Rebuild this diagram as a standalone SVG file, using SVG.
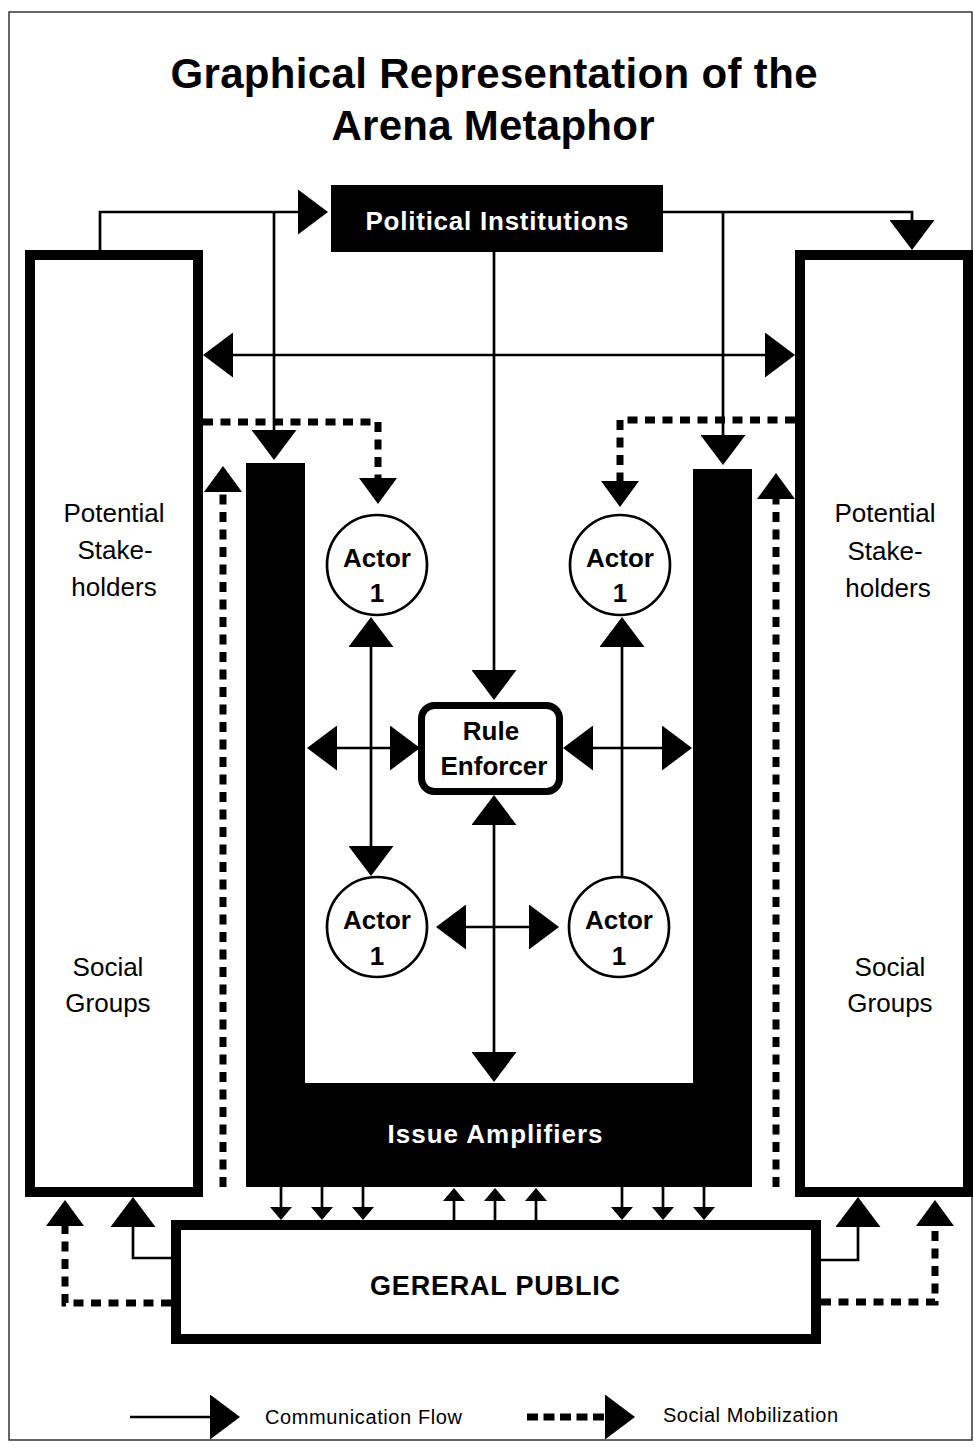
<svg xmlns="http://www.w3.org/2000/svg" width="975" height="1448" viewBox="0 0 975 1448">
  <style>
    text { font-family: "Liberation Sans", Arial, sans-serif; text-anchor: middle; }
    .title { font-size: 42px; font-weight: bold; fill: #000; }
    .lbl { font-size: 26px; font-weight: bold; fill: #000; }
    .lblw { font-size: 26px; font-weight: bold; fill: #fff; }
    .side { font-size: 26px; fill: #000; }
    .leg { font-size: 20px; fill: #000; text-anchor: start; }
    .box { fill: #fff; stroke: #000; stroke-width: 10; }
    .actor { fill: #fff; stroke: #000; stroke-width: 2.7; }
    .flow { fill: none; stroke: #000; stroke-width: 2.7; }
    .mob { fill: none; stroke: #000; stroke-width: 7; stroke-dasharray: 10 7.5; }
  </style>
  <defs>
    <marker id="ah" markerUnits="userSpaceOnUse" markerWidth="30" markerHeight="45" viewBox="0 0 30 45" refX="0" refY="22.5" orient="auto-start-reverse">
      <path d="M0,0 L30,22.5 L0,45 Z" fill="#000"/>
    </marker>
    <marker id="ahd" markerUnits="userSpaceOnUse" markerWidth="26" markerHeight="38" viewBox="0 0 26 38" refX="0" refY="19" orient="auto-start-reverse">
      <path d="M0,0 L26,19 L0,38 Z" fill="#000"/>
    </marker>
    <marker id="ahs" markerUnits="userSpaceOnUse" markerWidth="13" markerHeight="22" viewBox="0 0 13 22" refX="0" refY="11" orient="auto-start-reverse">
      <path d="M0,0 L13,11 L0,22 Z" fill="#000"/>
    </marker>
  </defs>

  <rect x="0" y="0" width="975" height="1448" fill="#fff"/>
  <!-- page frame -->
  <rect x="9" y="12" width="963" height="1428" fill="none" stroke="#333" stroke-width="1.5"/>

  <g id="title">
    <text class="title" x="494" y="88" textLength="647" lengthAdjust="spacing">Graphical Representation of the</text>
    <text class="title" x="493" y="140" textLength="323" lengthAdjust="spacing">Arena Metaphor</text>
  </g>

  <g id="political-institutions">
    <rect x="331" y="185" width="332" height="67" fill="#000"/>
    <text class="lblw" x="497" y="230" textLength="263" lengthAdjust="spacing">Political Institutions</text>
  </g>

  <g id="stakeholders-left">
    <rect class="box" x="30" y="255" width="168" height="937"/>
    <text class="side" x="114" y="522">Potential</text>
    <text class="side" x="115" y="559">Stake-</text>
    <text class="side" x="114" y="596">holders</text>
    <text class="side" x="108" y="976">Social</text>
    <text class="side" x="108" y="1012">Groups</text>
  </g>

  <g id="stakeholders-right">
    <rect class="box" x="800" y="255" width="168" height="937"/>
    <text class="side" x="885" y="522">Potential</text>
    <text class="side" x="885" y="560">Stake-</text>
    <text class="side" x="888" y="597">holders</text>
    <text class="side" x="890" y="976">Social</text>
    <text class="side" x="890" y="1012">Groups</text>
  </g>

  <g id="issue-amplifiers">
    <path d="M246,463 H305 V1083 H693 V469 H752 V1187 H246 Z" fill="#000"/>
    <text class="lblw" x="495" y="1143" textLength="215" lengthAdjust="spacing">Issue Amplifiers</text>
  </g>

  <g id="actor-top-left">
    <circle class="actor" cx="377" cy="565" r="50"/>
    <text class="lbl" x="377" y="567">Actor</text>
    <text class="lbl" x="377" y="602">1</text>
  </g>
  <g id="actor-top-right">
    <circle class="actor" cx="620" cy="565" r="50"/>
    <text class="lbl" x="620" y="567">Actor</text>
    <text class="lbl" x="620" y="602">1</text>
  </g>
  <g id="actor-bottom-left">
    <circle class="actor" cx="377" cy="927" r="50"/>
    <text class="lbl" x="377" y="929">Actor</text>
    <text class="lbl" x="377" y="965">1</text>
  </g>
  <g id="actor-bottom-right">
    <circle class="actor" cx="619" cy="927" r="50"/>
    <text class="lbl" x="619" y="929">Actor</text>
    <text class="lbl" x="619" y="965">1</text>
  </g>

  <g id="rule-enforcer">
    <rect x="421.5" y="705.5" width="138" height="86" rx="13" fill="#fff" stroke="#000" stroke-width="7"/>
    <text class="lbl" x="491" y="740">Rule</text>
    <text class="lbl" x="494" y="775">Enforcer</text>
  </g>

  <g id="general-public">
    <rect class="box" x="176" y="1225" width="640" height="114"/>
    <text class="lbl" x="495" y="1295" style="font-size:27px" textLength="250" lengthAdjust="spacing">GERERAL PUBLIC</text>
  </g>

  <g id="connectors">
    <!-- communication flow -->
    <path class="flow" d="M100,250 V212 H298" marker-end="url(#ah)"/>
    <path class="flow" d="M274,212 V430" marker-end="url(#ah)"/>
    <path class="flow" d="M663,212 H912 V220" marker-end="url(#ah)"/>
    <path class="flow" d="M723,212 V435" marker-end="url(#ah)"/>
    <path class="flow" d="M494,252 V670" marker-end="url(#ah)"/>
    <path class="flow" d="M233,355 H765" marker-start="url(#ah)" marker-end="url(#ah)"/>
    <path class="flow" d="M371,647 V846" marker-start="url(#ah)" marker-end="url(#ah)"/>
    <path class="flow" d="M622,876 V647" marker-end="url(#ah)"/>
    <path class="flow" d="M337,748 H390" marker-start="url(#ah)" marker-end="url(#ah)"/>
    <path class="flow" d="M593,748 H662" marker-start="url(#ah)" marker-end="url(#ah)"/>
    <path class="flow" d="M494,825 V1052" marker-start="url(#ah)" marker-end="url(#ah)"/>
    <path class="flow" d="M466,927 H529" marker-start="url(#ah)" marker-end="url(#ah)"/>
    <path class="flow" d="M171,1258 H133 V1227" marker-end="url(#ah)"/>
    <path class="flow" d="M821,1260 H858 V1227" marker-end="url(#ah)"/>
    <!-- amplifiers to public -->
    <path class="flow" d="M281,1187 V1207" marker-end="url(#ahs)"/>
    <path class="flow" d="M322,1187 V1207" marker-end="url(#ahs)"/>
    <path class="flow" d="M363,1187 V1207" marker-end="url(#ahs)"/>
    <path class="flow" d="M622,1187 V1207" marker-end="url(#ahs)"/>
    <path class="flow" d="M663,1187 V1207" marker-end="url(#ahs)"/>
    <path class="flow" d="M704,1187 V1207" marker-end="url(#ahs)"/>
    <!-- public to amplifiers -->
    <path class="flow" d="M454,1220 V1201" marker-end="url(#ahs)"/>
    <path class="flow" d="M495,1220 V1201" marker-end="url(#ahs)"/>
    <path class="flow" d="M536,1220 V1201" marker-end="url(#ahs)"/>
    <!-- social mobilization -->
    <path class="mob" d="M203,422 H378 V478" marker-end="url(#ahd)"/>
    <path class="mob" d="M795,420 H620 V481" marker-end="url(#ahd)"/>
    <path class="mob" d="M223,1187 V492" marker-end="url(#ahd)"/>
    <path class="mob" d="M776,1187 V499" marker-end="url(#ahd)"/>
    <path class="mob" d="M171,1303 H65 V1226" marker-end="url(#ahd)"/>
    <path class="mob" d="M821,1302 H935 V1226" marker-end="url(#ahd)"/>
  </g>

  <g id="legend">
    <path class="flow" d="M130,1417 H210" marker-end="url(#ah)"/>
    <text class="leg" x="265" y="1424" textLength="197" lengthAdjust="spacing">Communication Flow</text>
    <path class="mob" d="M527,1417 H605" style="stroke-dasharray:11 5.5" marker-end="url(#ah)"/>
    <text class="leg" x="663" y="1422" textLength="175" lengthAdjust="spacing">Social Mobilization</text>
  </g>
</svg>
